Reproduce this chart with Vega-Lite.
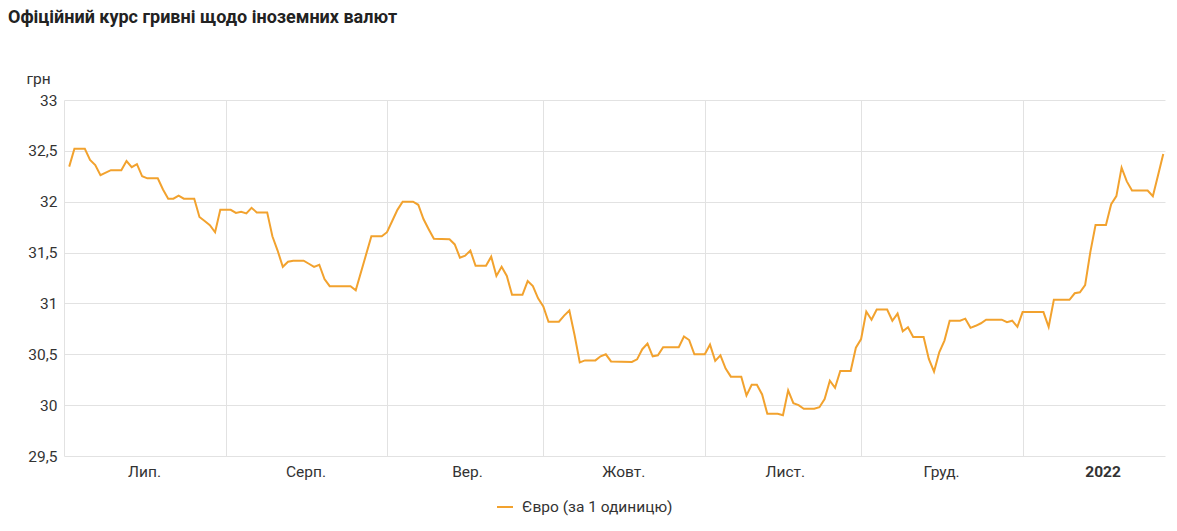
{
  "$schema": "https://vega.github.io/schema/vega-lite/v6.json",
  "width": 1101,
  "height": 356,
  "autosize": {"type": "none"},
  "padding": {"left": 64, "top": 100, "right": 12, "bottom": 75},
  "background": "white",
  "title": {
    "text": "Офіційний курс гривні щодо іноземних валют",
    "anchor": "start",
    "frame": "group",
    "dx": -56,
    "fontSize": 18,
    "fontWeight": "bold",
    "font": "Roboto",
    "color": "#222222",
    "offset": 44
  },
  "config": {
    "view": {"stroke": null},
    "font": "Roboto"
  },
  "data": {
    "values": [
      {"date": "2021-07-02", "rate": 32.345},
      {"date": "2021-07-03", "rate": 32.52},
      {"date": "2021-07-05", "rate": 32.52},
      {"date": "2021-07-06", "rate": 32.41},
      {"date": "2021-07-07", "rate": 32.36},
      {"date": "2021-07-08", "rate": 32.26},
      {"date": "2021-07-10", "rate": 32.31},
      {"date": "2021-07-12", "rate": 32.31},
      {"date": "2021-07-13", "rate": 32.40},
      {"date": "2021-07-14", "rate": 32.34},
      {"date": "2021-07-15", "rate": 32.37},
      {"date": "2021-07-16", "rate": 32.25},
      {"date": "2021-07-17", "rate": 32.23},
      {"date": "2021-07-19", "rate": 32.23},
      {"date": "2021-07-20", "rate": 32.12},
      {"date": "2021-07-21", "rate": 32.03},
      {"date": "2021-07-22", "rate": 32.03},
      {"date": "2021-07-23", "rate": 32.06},
      {"date": "2021-07-24", "rate": 32.03},
      {"date": "2021-07-26", "rate": 32.03},
      {"date": "2021-07-27", "rate": 31.85},
      {"date": "2021-07-28", "rate": 31.81},
      {"date": "2021-07-29", "rate": 31.77},
      {"date": "2021-07-30", "rate": 31.70},
      {"date": "2021-07-31", "rate": 31.92},
      {"date": "2021-08-02", "rate": 31.92},
      {"date": "2021-08-03", "rate": 31.89},
      {"date": "2021-08-04", "rate": 31.90},
      {"date": "2021-08-05", "rate": 31.885},
      {"date": "2021-08-06", "rate": 31.94},
      {"date": "2021-08-07", "rate": 31.895},
      {"date": "2021-08-09", "rate": 31.895},
      {"date": "2021-08-10", "rate": 31.66},
      {"date": "2021-08-11", "rate": 31.52},
      {"date": "2021-08-12", "rate": 31.36},
      {"date": "2021-08-13", "rate": 31.41},
      {"date": "2021-08-14", "rate": 31.42},
      {"date": "2021-08-16", "rate": 31.42},
      {"date": "2021-08-17", "rate": 31.39},
      {"date": "2021-08-18", "rate": 31.36},
      {"date": "2021-08-19", "rate": 31.38},
      {"date": "2021-08-20", "rate": 31.24},
      {"date": "2021-08-21", "rate": 31.17},
      {"date": "2021-08-25", "rate": 31.17},
      {"date": "2021-08-26", "rate": 31.13},
      {"date": "2021-08-29", "rate": 31.66},
      {"date": "2021-08-31", "rate": 31.66},
      {"date": "2021-09-01", "rate": 31.70},
      {"date": "2021-09-02", "rate": 31.81},
      {"date": "2021-09-03", "rate": 31.92},
      {"date": "2021-09-04", "rate": 32.00},
      {"date": "2021-09-06", "rate": 32.00},
      {"date": "2021-09-07", "rate": 31.97},
      {"date": "2021-09-08", "rate": 31.83},
      {"date": "2021-09-09", "rate": 31.73},
      {"date": "2021-09-10", "rate": 31.635},
      {"date": "2021-09-13", "rate": 31.63},
      {"date": "2021-09-14", "rate": 31.58},
      {"date": "2021-09-15", "rate": 31.45},
      {"date": "2021-09-16", "rate": 31.47},
      {"date": "2021-09-17", "rate": 31.52},
      {"date": "2021-09-18", "rate": 31.37},
      {"date": "2021-09-20", "rate": 31.37},
      {"date": "2021-09-21", "rate": 31.46},
      {"date": "2021-09-22", "rate": 31.27},
      {"date": "2021-09-23", "rate": 31.36},
      {"date": "2021-09-24", "rate": 31.27},
      {"date": "2021-09-25", "rate": 31.085},
      {"date": "2021-09-27", "rate": 31.085},
      {"date": "2021-09-28", "rate": 31.22},
      {"date": "2021-09-29", "rate": 31.17},
      {"date": "2021-09-30", "rate": 31.05},
      {"date": "2021-10-01", "rate": 30.97},
      {"date": "2021-10-02", "rate": 30.82},
      {"date": "2021-10-04", "rate": 30.82},
      {"date": "2021-10-05", "rate": 30.88},
      {"date": "2021-10-06", "rate": 30.93},
      {"date": "2021-10-07", "rate": 30.69},
      {"date": "2021-10-08", "rate": 30.42},
      {"date": "2021-10-09", "rate": 30.44},
      {"date": "2021-10-11", "rate": 30.44},
      {"date": "2021-10-12", "rate": 30.48},
      {"date": "2021-10-13", "rate": 30.50},
      {"date": "2021-10-14", "rate": 30.43},
      {"date": "2021-10-18", "rate": 30.425},
      {"date": "2021-10-19", "rate": 30.45},
      {"date": "2021-10-20", "rate": 30.55},
      {"date": "2021-10-21", "rate": 30.605},
      {"date": "2021-10-22", "rate": 30.48},
      {"date": "2021-10-23", "rate": 30.49},
      {"date": "2021-10-24", "rate": 30.57},
      {"date": "2021-10-27", "rate": 30.57},
      {"date": "2021-10-28", "rate": 30.675},
      {"date": "2021-10-29", "rate": 30.64},
      {"date": "2021-10-30", "rate": 30.50},
      {"date": "2021-11-01", "rate": 30.50},
      {"date": "2021-11-02", "rate": 30.595},
      {"date": "2021-11-03", "rate": 30.435},
      {"date": "2021-11-04", "rate": 30.49},
      {"date": "2021-11-05", "rate": 30.36},
      {"date": "2021-11-06", "rate": 30.28},
      {"date": "2021-11-08", "rate": 30.28},
      {"date": "2021-11-09", "rate": 30.095},
      {"date": "2021-11-10", "rate": 30.20},
      {"date": "2021-11-11", "rate": 30.20},
      {"date": "2021-11-12", "rate": 30.105},
      {"date": "2021-11-13", "rate": 29.915},
      {"date": "2021-11-15", "rate": 29.915},
      {"date": "2021-11-16", "rate": 29.90},
      {"date": "2021-11-17", "rate": 30.145},
      {"date": "2021-11-18", "rate": 30.02},
      {"date": "2021-11-19", "rate": 30.00},
      {"date": "2021-11-20", "rate": 29.965},
      {"date": "2021-11-22", "rate": 29.965},
      {"date": "2021-11-23", "rate": 29.98},
      {"date": "2021-11-24", "rate": 30.06},
      {"date": "2021-11-25", "rate": 30.24},
      {"date": "2021-11-26", "rate": 30.17},
      {"date": "2021-11-27", "rate": 30.335},
      {"date": "2021-11-29", "rate": 30.335},
      {"date": "2021-11-30", "rate": 30.565},
      {"date": "2021-12-01", "rate": 30.65},
      {"date": "2021-12-02", "rate": 30.92},
      {"date": "2021-12-03", "rate": 30.84},
      {"date": "2021-12-04", "rate": 30.94},
      {"date": "2021-12-06", "rate": 30.94},
      {"date": "2021-12-07", "rate": 30.83},
      {"date": "2021-12-08", "rate": 30.90},
      {"date": "2021-12-09", "rate": 30.725},
      {"date": "2021-12-10", "rate": 30.765},
      {"date": "2021-12-11", "rate": 30.67},
      {"date": "2021-12-13", "rate": 30.67},
      {"date": "2021-12-14", "rate": 30.455},
      {"date": "2021-12-15", "rate": 30.33},
      {"date": "2021-12-16", "rate": 30.52},
      {"date": "2021-12-17", "rate": 30.635},
      {"date": "2021-12-18", "rate": 30.83},
      {"date": "2021-12-20", "rate": 30.83},
      {"date": "2021-12-21", "rate": 30.85},
      {"date": "2021-12-22", "rate": 30.76},
      {"date": "2021-12-23", "rate": 30.78},
      {"date": "2021-12-24", "rate": 30.805},
      {"date": "2021-12-25", "rate": 30.84},
      {"date": "2021-12-28", "rate": 30.84},
      {"date": "2021-12-29", "rate": 30.815},
      {"date": "2021-12-30", "rate": 30.83},
      {"date": "2021-12-31", "rate": 30.77},
      {"date": "2022-01-01", "rate": 30.915},
      {"date": "2022-01-05", "rate": 30.915},
      {"date": "2022-01-06", "rate": 30.77},
      {"date": "2022-01-07", "rate": 31.035},
      {"date": "2022-01-10", "rate": 31.035},
      {"date": "2022-01-11", "rate": 31.10},
      {"date": "2022-01-12", "rate": 31.11},
      {"date": "2022-01-13", "rate": 31.18},
      {"date": "2022-01-14", "rate": 31.505},
      {"date": "2022-01-15", "rate": 31.77},
      {"date": "2022-01-17", "rate": 31.77},
      {"date": "2022-01-18", "rate": 31.975},
      {"date": "2022-01-19", "rate": 32.055},
      {"date": "2022-01-20", "rate": 32.335},
      {"date": "2022-01-21", "rate": 32.20},
      {"date": "2022-01-22", "rate": 32.11},
      {"date": "2022-01-25", "rate": 32.11},
      {"date": "2022-01-26", "rate": 32.055},
      {"date": "2022-01-27", "rate": 32.26},
      {"date": "2022-01-28", "rate": 32.47}
    ]
  },
  "mark": {"type": "line", "strokeWidth": 2, "interpolate": "linear"},
  "encoding": {
    "x": {
      "field": "date",
      "type": "temporal",
      "scale": {
        "type": "utc",
        "domain": [
          {"year": 2021, "month": 7, "date": 1, "utc": true},
          {"year": 2022, "month": 1, "date": 28, "hours": 8, "utc": true}
        ]
      },
      "axis": {
        "title": null,
        "grid": true,
        "gridColor": "#e2e2e2",
        "gridWidth": 1,
        "domain": false,
        "ticks": false,
        "tickCount": {"interval": "month", "step": 1},
        "labelOffset": 80,
        "labelAlign": "center",
        "labelBound": false,
        "labelOverlap": false,
        "labelFlush": false,
        "labelPadding": 8,
        "labelFontSize": 15.5,
        "labelColor": "#333333",
        "labelFont": "Roboto",
        "labelExpr": "utcmonth(datum.value) == 0 ? utcFormat(datum.value, '%Y') : ['Січ.','Лют.','Бер.','Квіт.','Трав.','Черв.','Лип.','Серп.','Вер.','Жовт.','Лист.','Груд.'][utcmonth(datum.value)]",
        "labelFontWeight": {"condition": {"test": "utcmonth(datum.value) == 0", "value": "bold"}, "value": "normal"}
      }
    },
    "y": {
      "field": "rate",
      "type": "quantitative",
      "scale": {"domain": [29.5, 33], "zero": false, "nice": false},
      "axis": {
        "values": [29.5, 30, 30.5, 31, 31.5, 32, 32.5, 33],
        "title": "грн",
        "titleAngle": 0,
        "titleX": -38,
        "titleY": -17,
        "titleAlign": "left",
        "titleBaseline": "alphabetic",
        "titleFontWeight": "normal",
        "titleFontSize": 15.5,
        "titleColor": "#333333",
        "titleFont": "Roboto",
        "grid": true,
        "gridColor": "#e2e2e2",
        "domain": false,
        "ticks": false,
        "labelPadding": 7,
        "labelFontSize": 15.5,
        "labelColor": "#333333",
        "labelFont": "Roboto",
        "labelExpr": "replace(format(datum.value, '~f'), '.', ',')"
      }
    },
    "color": {
      "datum": "Євро (за 1 одиницю)",
      "type": "nominal",
      "scale": {"range": ["#f2a22e"]},
      "legend": {
        "title": null,
        "orient": "none",
        "legendX": 432,
        "legendY": 398,
        "symbolType": "stroke",
        "symbolStrokeWidth": 2,
        "symbolSize": 256,
        "labelFontSize": 15.5,
        "labelColor": "#333333",
        "labelFont": "Roboto",
        "labelOffset": 8
      }
    }
  }
}
